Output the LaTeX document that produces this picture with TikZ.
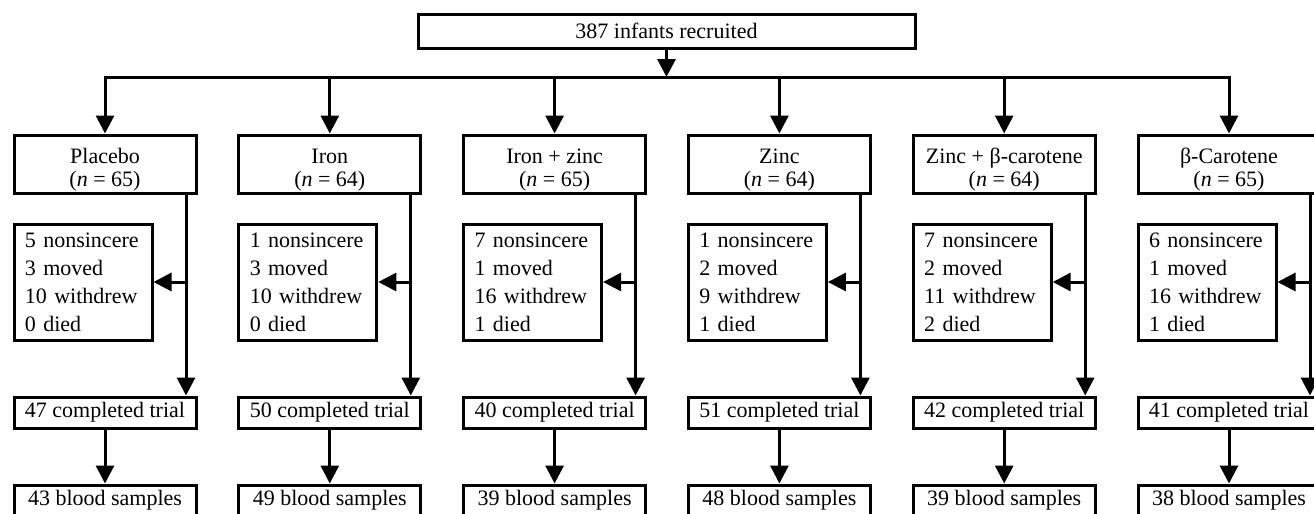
\documentclass[tikz,border=0pt]{standalone}
\usepackage{fontspec}
\setmainfont{Liberation Serif}
\usetikzlibrary{arrows.meta}
\begin{document}
\begin{tikzpicture}[x=0.5pt,y=-0.5pt,
  line width=1.5pt,
  box/.style={draw, line width=1.5pt, inner sep=0pt, align=center,
    font=\fontsize{11}{11.5}\selectfont},
  grpbox/.style={box, minimum width=91pt, minimum height=29pt},
  dropbox/.style={draw, line width=1.5pt, inner xsep=5.5pt, inner ysep=0pt,
    text width=58pt, align=left, minimum height=58pt,
    font=\fontsize{11}{14}\selectfont},
  smallbox/.style={box, minimum width=91pt, minimum height=15.5pt},
  arr/.style={-{Triangle[width=9pt,length=9pt]}, line width=1.5pt}
]
\useasboundingbox (0,0) rectangle (1314,514);
\clip (0,0) rectangle (1314,514);
\node[box, minimum width=248.5pt, minimum height=17pt] (top) at (666.5,31) {387 infants recruited};
\coordinate (bus) at (666.5,77);
\draw[arr] (top.south) -- (bus);
\foreach \i/\lab/\n/\a/\b/\c/\d/\comp/\blood in {
 0/Placebo/65/5/3/10/0/47/43,
 1/Iron/64/1/3/10/0/50/49,
 2/Iron + zinc/65/7/1/16/1/40/39,
 3/Zinc/64/1/2/9/1/51/48,
 4/Zinc + β-carotene/64/7/2/11/2/42/39,
 5/β-Carotene/65/6/1/16/1/41/38}{
  \pgfmathsetmacro\L{14+224.8*\i}
  \node[grpbox] (g\i) at (\L+91,164) {\rule{0pt}{13pt}\lab\\(\textit{n} = \n)};
  \node[dropbox] (d\i) at (\L+69,282) {\a{} nonsincere\\\b{} moved\\\c{} withdrew\\\d{} died};
  \node[smallbox] (c\i) at (\L+91,412.5) {\comp{} completed trial};
  \node[smallbox] (b\i) at (\L+91,500.5) {\blood{} blood samples};
  \coordinate (x\i) at (\L+172,0);
  \draw[arr] (bus) -| (g\i.north);
  \draw[arr] (g\i.south -| x\i) -- (c\i.north -| x\i);
  \draw[arr] (d\i.east -| x\i) -- (d\i.east);
  \draw[arr] (c\i.south) -- (b\i.north);
}
\end{tikzpicture}
\end{document}
